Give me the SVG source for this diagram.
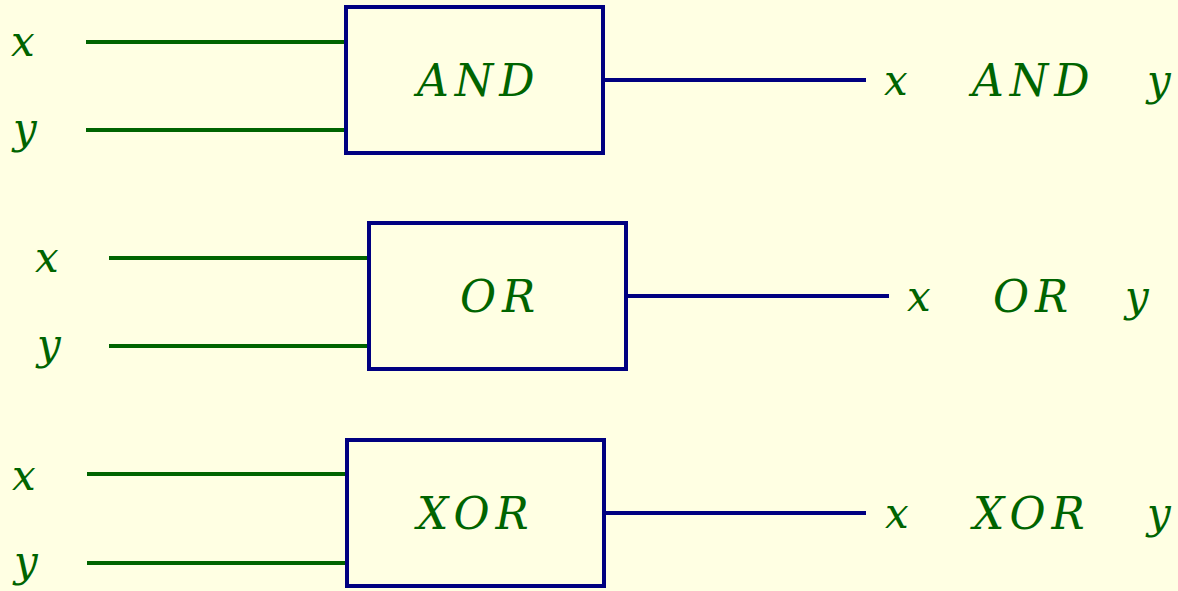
<svg xmlns="http://www.w3.org/2000/svg" width="1178" height="591" viewBox="0 0 1178 591">
  <style>
    .bg { fill: #FFFFE3; }
    .gate { fill: none; stroke: #000080; stroke-width: 4; }
    .in { stroke: #006400; stroke-width: 4; }
    .out { stroke: #000080; stroke-width: 4; }
    text { font-family: "DejaVu Serif", "Liberation Serif", serif; font-style: italic; fill: #006400; }
    .var { font-size: 42px; }
    .op { font-size: 44px; letter-spacing: 6px; }
  </style>
  <rect class="bg" x="0" y="0" width="1178" height="591"/>

  <!-- wires -->
  <g id="connectors">
    <line class="in" x1="86" y1="42" x2="346" y2="42"/>
    <line class="in" x1="86" y1="130" x2="346" y2="130"/>
    <line class="out" x1="603" y1="80" x2="866" y2="80"/>

    <line class="in" x1="109" y1="258" x2="369" y2="258"/>
    <line class="in" x1="109" y1="346" x2="369" y2="346"/>
    <line class="out" x1="626" y1="296" x2="889" y2="296"/>

    <line class="in" x1="87" y1="474" x2="347" y2="474"/>
    <line class="in" x1="87" y1="563" x2="347" y2="563"/>
    <line class="out" x1="604" y1="513" x2="866" y2="513"/>
  </g>

  <!-- AND gate -->
  <g id="and-gate">
    <text class="var" x="11" y="56">x</text>
    <text class="var" x="13" y="143">y</text>
    <rect class="gate" x="346" y="7" width="257" height="146"/>
    <text class="op" x="417" y="96">AND</text>
    <text class="var" x="884" y="95">x</text>
    <text class="op" x="972" y="96">AND</text>
    <text class="var" x="1147" y="95">y</text>
  </g>

  <!-- OR gate -->
  <g id="or-gate">
    <text class="var" x="35" y="272">x</text>
    <text class="var" x="37" y="359">y</text>
    <rect class="gate" x="369" y="223" width="257" height="146"/>
    <text class="op" x="460" y="312">OR</text>
    <text class="var" x="907" y="311">x</text>
    <text class="op" x="993" y="312">OR</text>
    <text class="var" x="1125" y="311">y</text>
  </g>

  <!-- XOR gate -->
  <g id="xor-gate">
    <text class="var" x="12" y="490">x</text>
    <text class="var" x="14" y="576">y</text>
    <rect class="gate" x="347" y="440" width="257" height="146"/>
    <text class="op" x="417" y="529">XOR</text>
    <text class="var" x="885" y="528">x</text>
    <text class="op" x="973" y="529">XOR</text>
    <text class="var" x="1147" y="528">y</text>
  </g>
</svg>
